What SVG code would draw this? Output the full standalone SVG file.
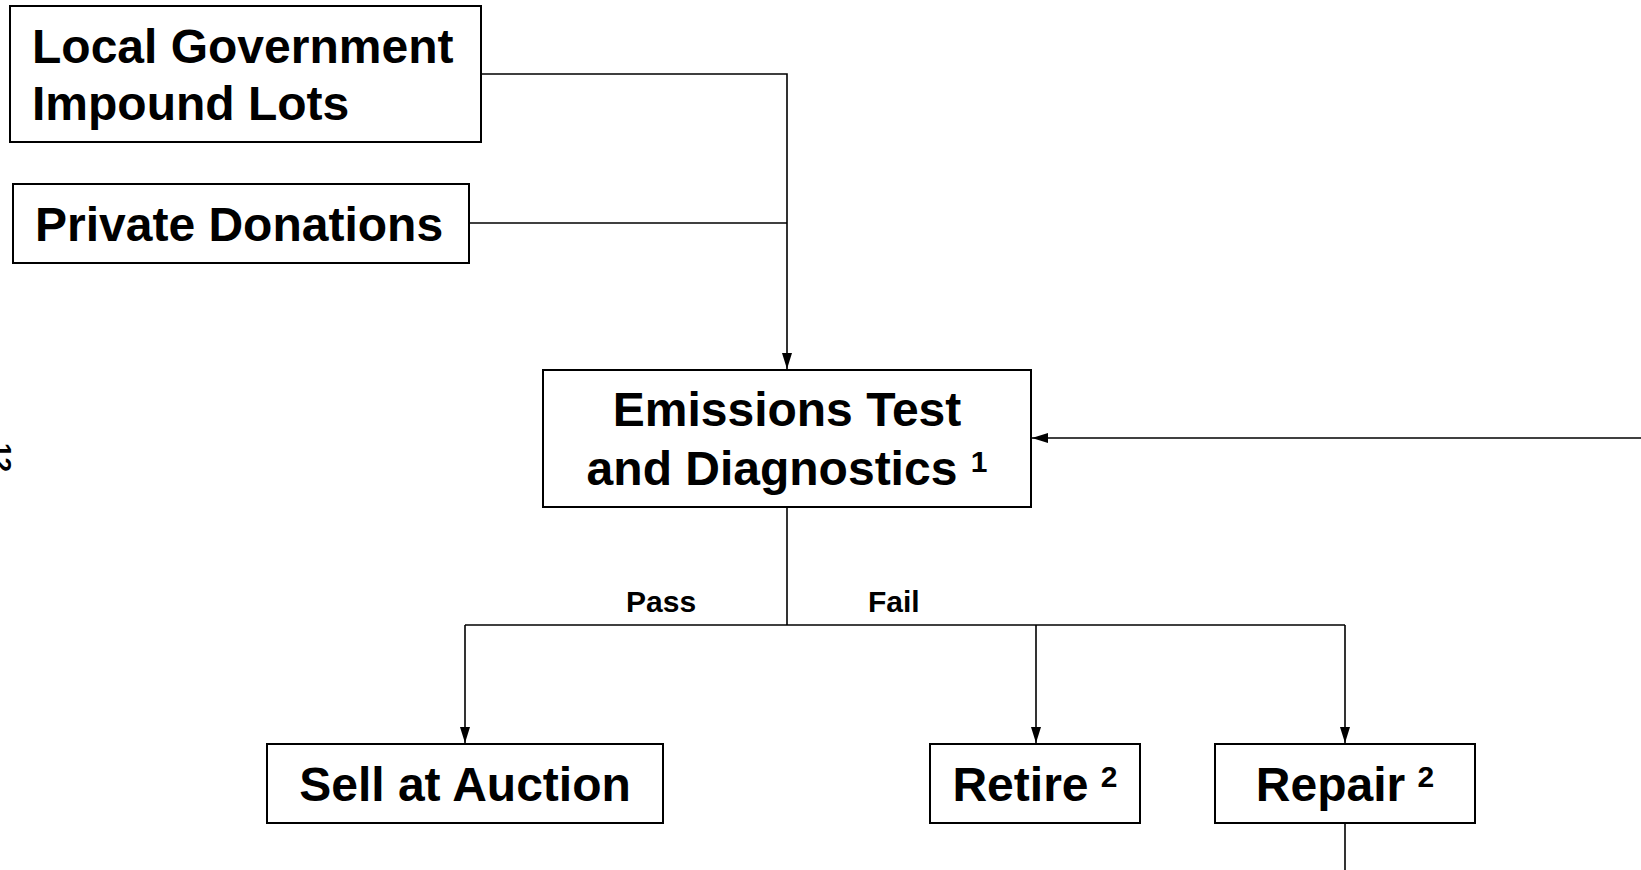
<svg xmlns="http://www.w3.org/2000/svg" width="1641" height="870" viewBox="0 0 1641 870">
<style>
.box{fill:#fff;stroke:#000;stroke-width:2}
.t{font-family:"Liberation Sans",Arial,sans-serif;font-weight:bold;font-size:48px;fill:#000}
.lbl{font-family:"Liberation Sans",Arial,sans-serif;font-weight:bold;font-size:30px;fill:#000}
.c{fill:none;stroke:#000;stroke-width:1.6}
</style>
<defs>
<marker id="ah" viewBox="0 0 16 10" refX="16" refY="5" markerWidth="16" markerHeight="10" markerUnits="userSpaceOnUse" orient="auto">
<path d="M0,0 L16,5 L0,10 Z" fill="#000"/>
</marker>
</defs>
<rect width="1641" height="870" fill="#fff"/>
<g id="connectors">
<path class="c" d="M481,74 H787 V369" marker-end="url(#ah)"/>
<path class="c" d="M469,223 H787"/>
<path class="c" d="M787,507 V625"/>
<path class="c" d="M465,625 H1345"/>
<path class="c" d="M465,625 V743" marker-end="url(#ah)"/>
<path class="c" d="M1036,625 V743" marker-end="url(#ah)"/>
<path class="c" d="M1345,625 V743" marker-end="url(#ah)"/>
<path class="c" d="M1345,823 V870"/>
<path class="c" d="M1641,438 H1032" marker-end="url(#ah)"/>
<text class="lbl" x="626" y="612">Pass</text>
<text class="lbl" x="868" y="612">Fail</text>
</g>
<g id="local-government">
<rect class="box" x="10" y="6" width="471" height="136"/>
<text class="t" x="32" y="63">Local Government</text>
<text class="t" x="32" y="120">Impound Lots</text>
</g>
<g id="private-donations">
<rect class="box" x="13" y="184" width="456" height="79"/>
<text class="t" x="35" y="241">Private Donations</text>
</g>
<g id="emissions">
<rect class="box" x="543" y="370" width="488" height="137"/>
<text class="t" x="787" y="426" text-anchor="middle">Emissions Test</text>
<text class="t" x="787" y="485" text-anchor="middle">and Diagnostics<tspan font-size="30" dx="5" dy="-13"> 1</tspan></text>
</g>
<g id="sell">
<rect class="box" x="267" y="744" width="396" height="79"/>
<text class="t" x="465" y="801" text-anchor="middle">Sell at Auction</text>
</g>
<g id="retire">
<rect class="box" x="930" y="744" width="210" height="79"/>
<text class="t" x="1035" y="801" text-anchor="middle">Retire<tspan font-size="30" dx="4" dy="-14"> 2</tspan></text>
</g>
<g id="repair">
<rect class="box" x="1215" y="744" width="260" height="79"/>
<text class="t" x="1345" y="801" text-anchor="middle">Repair<tspan font-size="30" dx="4" dy="-14"> 2</tspan></text>
</g>
<g id="page-number">
<text class="lbl" transform="translate(-7,443) rotate(90)" style="font-size:26px">12</text>
</g>
</svg>
